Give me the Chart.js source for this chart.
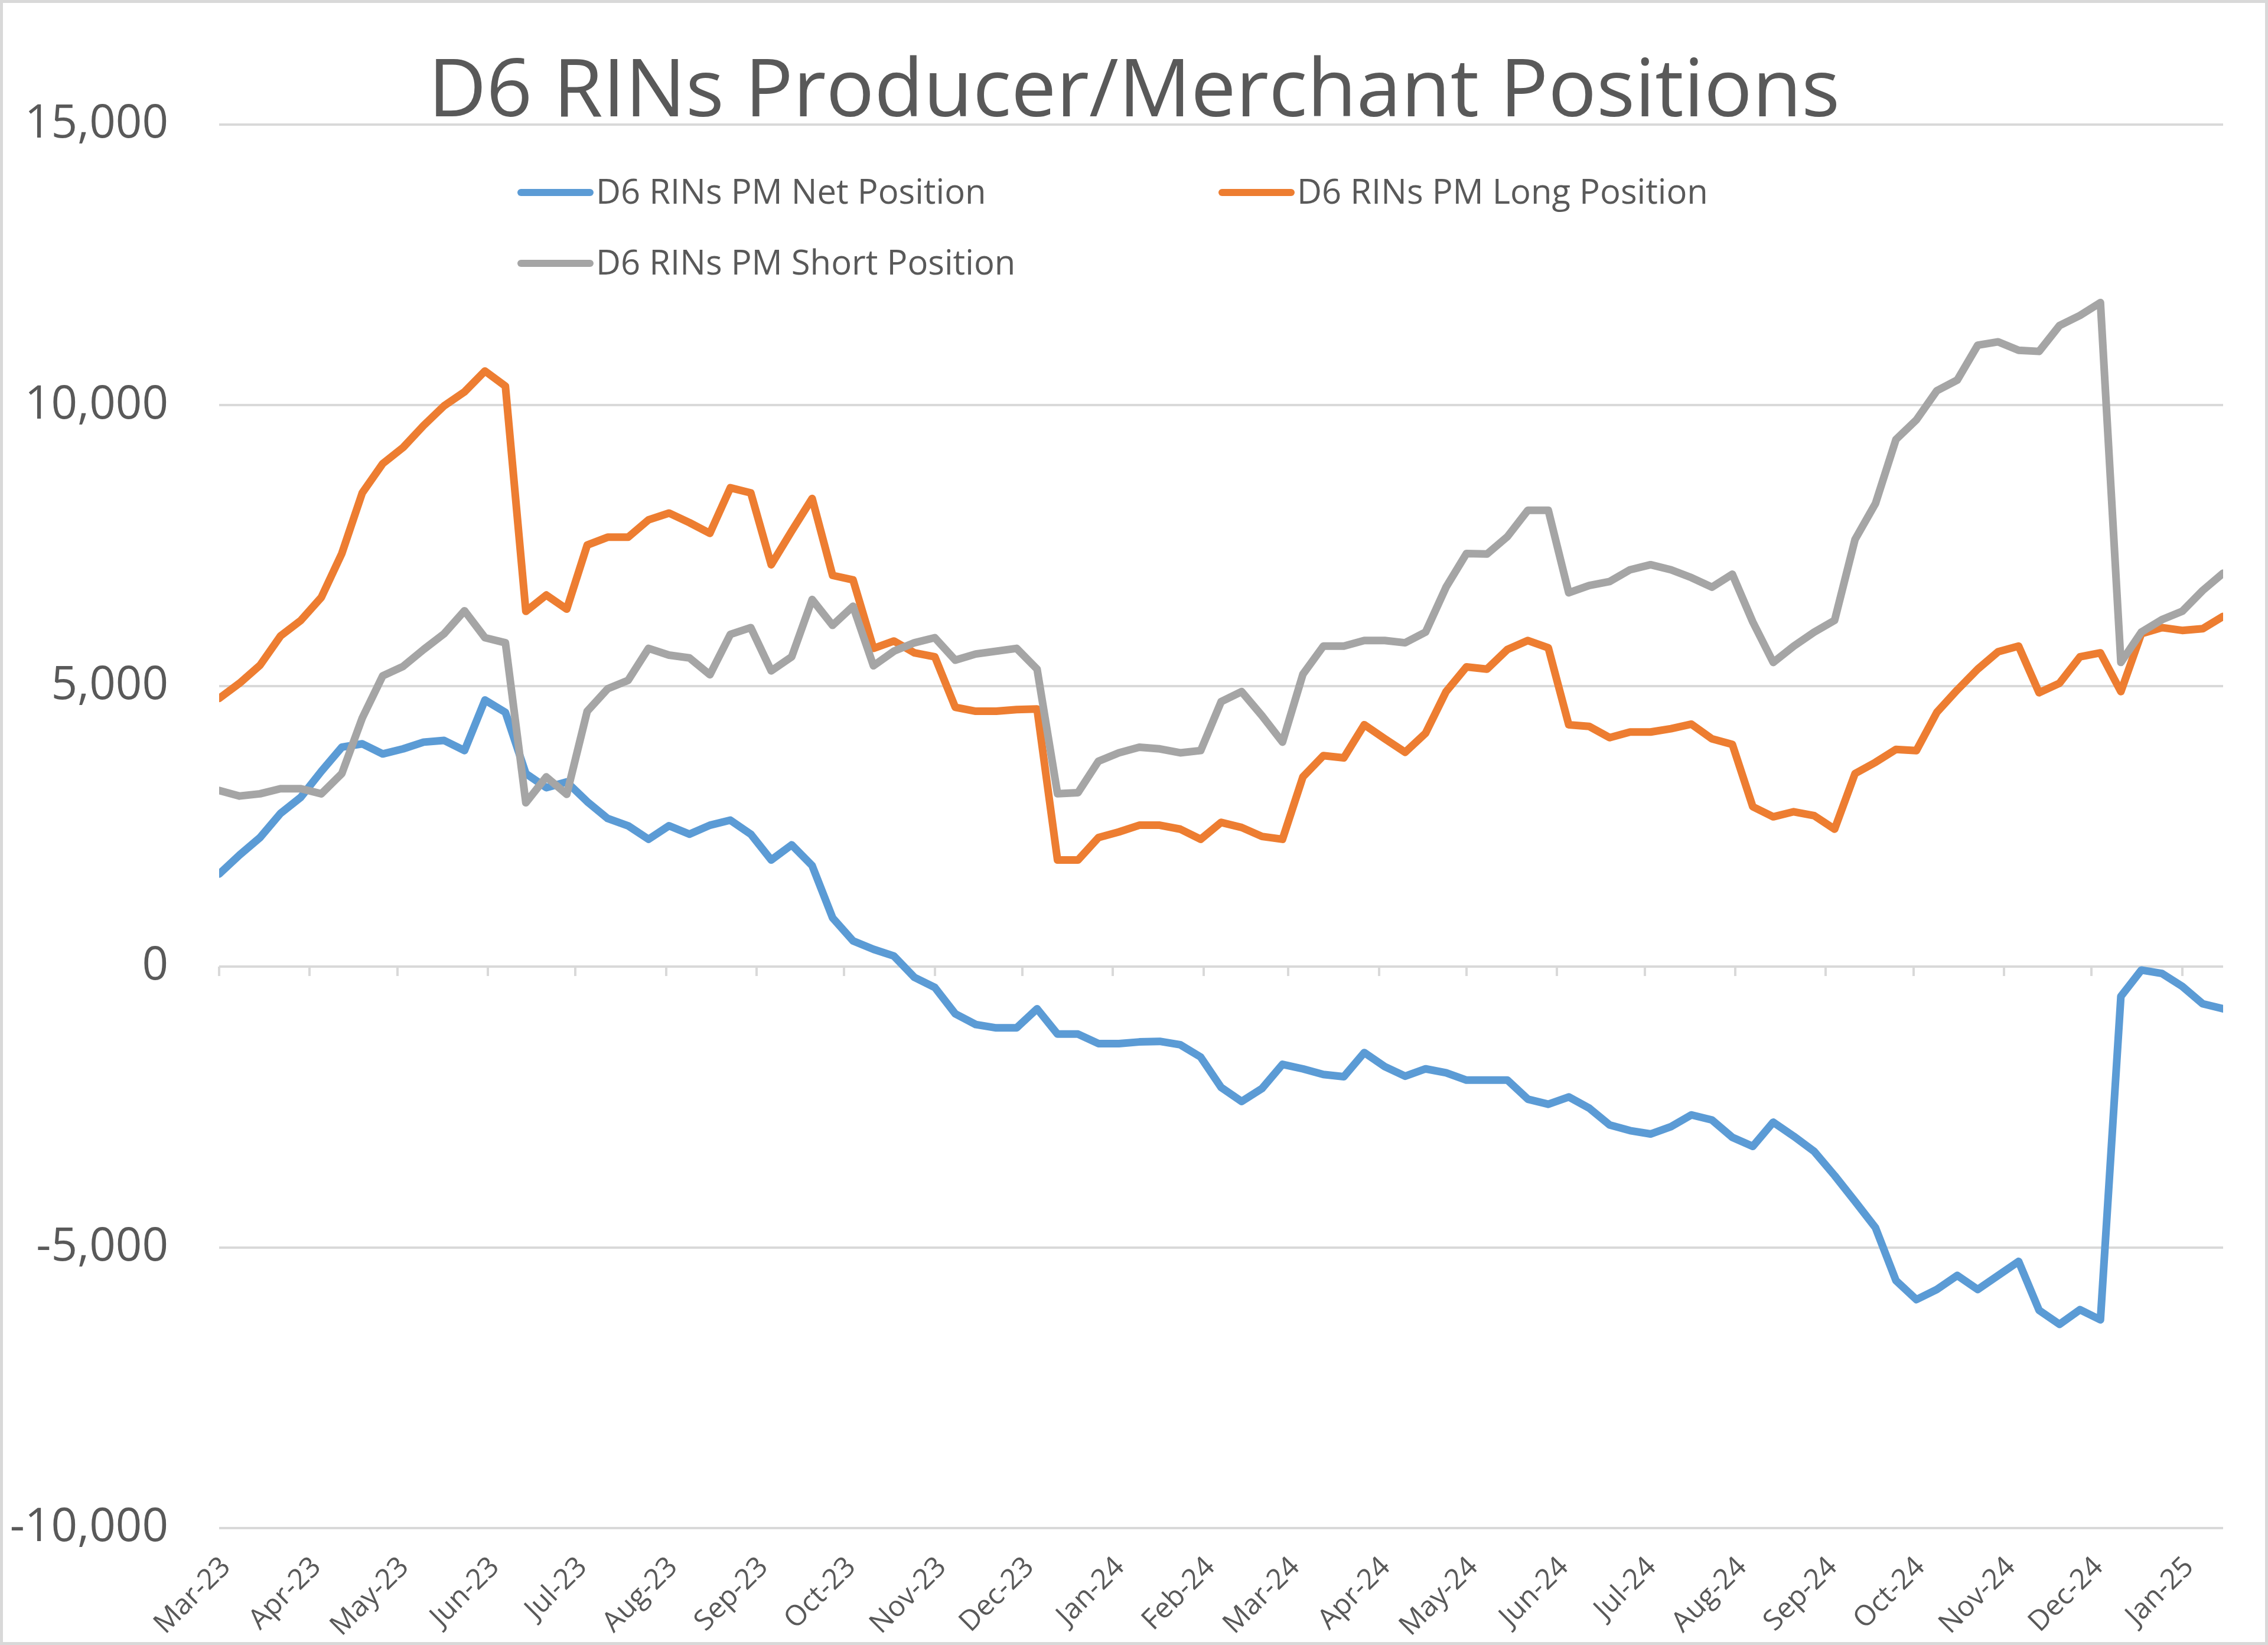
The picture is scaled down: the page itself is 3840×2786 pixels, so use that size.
<!DOCTYPE html>
<html>
<head>
<meta charset="utf-8">
<script src="https://cdn.jsdelivr.net/npm/chart.js@4.4.1/dist/chart.umd.min.js"></script>
<style>
  html, body { margin: 0; padding: 0; background: #fff; }
  canvas { display: block; }
</style>
</head>
<body>
<canvas id="positions_chart" width="3840" height="2786"></canvas>
<script>
// weekly report dates (Tuesdays)
const report_dates = [
  '2023-03-07','2023-03-14','2023-03-21','2023-03-28','2023-04-04','2023-04-11','2023-04-18','2023-04-25',
  '2023-05-02','2023-05-09','2023-05-16','2023-05-23','2023-05-30','2023-06-06','2023-06-13','2023-06-20',
  '2023-06-27','2023-07-04','2023-07-11','2023-07-18','2023-07-25','2023-08-01','2023-08-08','2023-08-15',
  '2023-08-22','2023-08-29','2023-09-05','2023-09-12','2023-09-19','2023-09-26','2023-10-03','2023-10-10',
  '2023-10-17','2023-10-24','2023-10-31','2023-11-07','2023-11-14','2023-11-21','2023-11-28','2023-12-05',
  '2023-12-12','2023-12-19','2023-12-26','2024-01-02','2024-01-09','2024-01-16','2024-01-23','2024-01-30',
  '2024-02-06','2024-02-13','2024-02-20','2024-02-27','2024-03-05','2024-03-12','2024-03-19','2024-03-26',
  '2024-04-02','2024-04-09','2024-04-16','2024-04-23','2024-04-30','2024-05-07','2024-05-14','2024-05-21',
  '2024-05-28','2024-06-04','2024-06-11','2024-06-18','2024-06-25','2024-07-02','2024-07-09','2024-07-16',
  '2024-07-23','2024-07-30','2024-08-06','2024-08-13','2024-08-20','2024-08-27','2024-09-03','2024-09-10',
  '2024-09-17','2024-09-24','2024-10-01','2024-10-08','2024-10-15','2024-10-22','2024-10-29','2024-11-05',
  '2024-11-12','2024-11-19','2024-11-26','2024-12-03','2024-12-10','2024-12-17','2024-12-24','2024-12-31',
  '2025-01-07','2025-01-14','2025-01-21'
];

const month_labels = [
  'Mar-23','Apr-23','May-23','Jun-23','Jul-23','Aug-23','Sep-23','Oct-23','Nov-23','Dec-23',
  'Jan-24','Feb-24','Mar-24','Apr-24','May-24','Jun-24','Jul-24','Aug-24','Sep-24','Oct-24',
  'Nov-24','Dec-24','Jan-25'
];

const net_position = [
  1650, 1990, 2300, 2730, 3020, 3480, 3910, 3970, 3790, 3880, 4000, 4030, 3850, 4750, 4530, 3440,
  3190, 3290, 2940, 2640, 2510, 2270, 2510, 2360, 2520, 2610, 2360, 1900, 2170, 1800, 870, 460,
  310, 190, -190, -370, -840, -1030, -1090, -1090, -750, -1200, -1200, -1370, -1370, -1340, -1330, -1390,
  -1610, -2150, -2400, -2170, -1740, -1820, -1920, -1960, -1530, -1780, -1950, -1820, -1890, -2020, -2020, -2020,
  -2360, -2450, -2320, -2520, -2820, -2920, -2980, -2850, -2640, -2730, -3040, -3200, -2770, -3020, -3290, -3720,
  -4180, -4650, -5590, -5930, -5750, -5500, -5750, -5500, -5250, -6120, -6370, -6110, -6290, -530, -60, -120,
  -350, -660, -750
];

const long_position = [
  4780, 5050, 5370, 5890, 6170, 6580, 7360, 8440, 8960, 9250, 9640, 9990, 10240, 10610, 10340, 6330,
  6620, 6370, 7510, 7650, 7650, 7960, 8080, 7910, 7720, 8530, 8440, 7160, 7760, 8340, 6970, 6890,
  5670, 5800, 5590, 5520, 4620, 4550, 4550, 4580, 4590, 1900, 1900, 2300, 2400, 2520, 2520, 2450,
  2270, 2570, 2480, 2320, 2270, 3380, 3760, 3720, 4310, 4060, 3820, 4160, 4900, 5340, 5300, 5650,
  5810, 5680, 4310, 4280, 4080, 4180, 4180, 4240, 4320, 4060, 3960, 2850, 2670, 2760, 2690, 2450,
  3440, 3640, 3870, 3850, 4530, 4930, 5300, 5610, 5710, 4880, 5050, 5520, 5590, 4900, 5930, 6040,
  5990, 6020, 6240
];

const short_position = [
  3140, 3040, 3080, 3170, 3170, 3080, 3440, 4430, 5180, 5350, 5650, 5930, 6340, 5860, 5770, 2920,
  3380, 3070, 4550, 4950, 5100, 5670, 5550, 5500, 5200, 5920, 6040, 5270, 5520, 6540, 6080, 6420,
  5360, 5620, 5770, 5860, 5460, 5570, 5620, 5670, 5300, 3080, 3100, 3660, 3810, 3910, 3880, 3810,
  3850, 4720, 4900, 4470, 4000, 5210, 5710, 5710, 5810, 5810, 5770, 5960, 6760, 7360, 7350, 7660,
  8130, 8130, 6660, 6790, 6860, 7070, 7160, 7070, 6930, 6760, 6990, 6140, 5420, 5710, 5960, 6170,
  7610, 8250, 9390, 9740, 10260, 10450, 11070, 11130, 10980, 10960, 11420, 11600, 11830, 5420, 5960, 6180,
  6330, 6700, 7010
];

const DAY_MS = 86400000;
const first_day = Date.parse(report_dates[0]);
const x_days = report_dates.map(d => (Date.parse(d) - first_day) / DAY_MS);
// excel date axis: one major tick per month, same day of month as the first report
const month_ticks = month_labels.map((label, i) => (Date.UTC(2023, 2 + i, 7) - first_day) / DAY_MS);
const last_day = x_days[x_days.length - 1];

const TEXT_COLOR = '#595959';
const GRID_COLOR = '#D9D9D9';

function toPoints(values){
    return values.map((v, i) => ({x: x_days[i], y: v}));
}

function setMonthTicks(scale){
    scale.ticks = month_ticks.map(v => ({value: v}));
}

const framePlugin = {
    id: 'frame',
    beforeDraw(chart){
        const ctx = chart.ctx;
        ctx.save();
        ctx.fillStyle = '#ffffff';
        ctx.fillRect(0, 0, chart.width, chart.height);
        ctx.strokeStyle = GRID_COLOR;
        ctx.lineWidth = 5;
        ctx.strokeRect(2.5, 2.5, chart.width - 5, chart.height - 5);
        ctx.restore();
    }
};

// legend drawn inside the plot like excel does, two columns
const legendPlugin = {
    id: 'excelLegend',
    afterDraw(chart, args, opts){
        const ctx = chart.ctx;
        ctx.save();
        ctx.font = opts.font;
        ctx.textBaseline = 'middle';
        ctx.textAlign = 'left';
        ctx.lineCap = 'round';
        chart.data.datasets.forEach((ds, i) => {
            const slot = opts.slots[i];
            ctx.strokeStyle = ds.borderColor;
            ctx.lineWidth = opts.lineWidth;
            ctx.beginPath();
            ctx.moveTo(slot.x, slot.y);
            ctx.lineTo(slot.x + opts.swatch, slot.y);
            ctx.stroke();
            ctx.fillStyle = TEXT_COLOR;
            ctx.fillText(ds.label, slot.x + opts.swatch + opts.gap, slot.y + 2);
        });
        ctx.restore();
    }
};

const ctx = document.getElementById('positions_chart').getContext('2d');
const positions_chart = new Chart(ctx, {
    type: 'line',
    data: {
        datasets: [{
            label: 'D6 RINs PM Net Position',
            data: toPoints(net_position),
            borderColor: '#5B9BD5',
            order: 2
        }, {
            label: 'D6 RINs PM Long Position',
            data: toPoints(long_position),
            borderColor: '#ED7D31',
            order: 1
        }, {
            label: 'D6 RINs PM Short Position',
            data: toPoints(short_position),
            borderColor: '#A5A5A5',
            order: 0
        }]
    },
    plugins: [framePlugin, legendPlugin],
    options: {
        responsive: false,
        animation: false,
        devicePixelRatio: 1,
        layout: {
            padding: 0
        },
        datasets: {
            line: {
                xAxisID: 'x',
                yAxisID: 'y',
                borderWidth: 13,
                pointRadius: 0,
                tension: 0,
                fill: false,
                borderJoinStyle: 'round',
                borderCapStyle: 'round'
            }
        },
        scales: {
            x: {
                type: 'linear',
                position: 'bottom',
                min: 0,
                max: last_day,
                afterBuildTicks: setMonthTicks,
                afterFit: scale => { scale.height = 198; },
                grid: {display: false},
                border: {display: false},
                ticks: {
                    autoSkip: false,
                    minRotation: 45,
                    maxRotation: 45,
                    padding: 30,
                    labelOffset: 12,
                    color: TEXT_COLOR,
                    font: {family: 'Open Sans', size: 48},
                    callback: (value, index) => month_labels[index]
                }
            },
            xzero: {
                type: 'linear',
                axis: 'x',
                position: {y: 0},
                min: 0,
                max: last_day,
                afterBuildTicks: setMonthTicks,
                grid: {
                    drawOnChartArea: false,
                    drawTicks: true,
                    tickLength: 16,
                    color: GRID_COLOR,
                    lineWidth: 4
                },
                border: {display: false},
                ticks: {display: false}
            },
            y: {
                min: -10000,
                max: 15000,
                afterFit: scale => { scale.width = 371; },
                grid: {
                    color: GRID_COLOR,
                    lineWidth: 4,
                    drawTicks: false
                },
                border: {display: false},
                ticks: {
                    stepSize: 5000,
                    padding: 86,
                    color: TEXT_COLOR,
                    font: {family: 'Open Sans', size: 78},
                    callback: v => v.toLocaleString('en-US')
                }
            },
            // empty right margin so the title stays centred on the whole canvas
            yright: {
                type: 'linear',
                axis: 'y',
                position: 'right',
                min: -10000,
                max: 15000,
                afterFit: scale => { scale.width = 76; },
                grid: {display: false},
                border: {display: false},
                ticks: {display: false}
            }
        },
        plugins: {
            legend: {display: false},
            tooltip: {enabled: false},
            title: {
                display: true,
                text: 'D6 RINs Producer/Merchant Positions',
                color: TEXT_COLOR,
                font: {family: 'Open Sans', size: 136, weight: 'normal', lineHeight: 1},
                padding: {top: 90, bottom: -15}
            },
            excelLegend: {
                font: '58px "Open Sans"',
                lineWidth: 12,
                swatch: 117,
                gap: 10,
                slots: [{x: 882, y: 326}, {x: 2069, y: 326}, {x: 882, y: 446}]
            }
        }
    }
});
</script>
</body>
</html>
